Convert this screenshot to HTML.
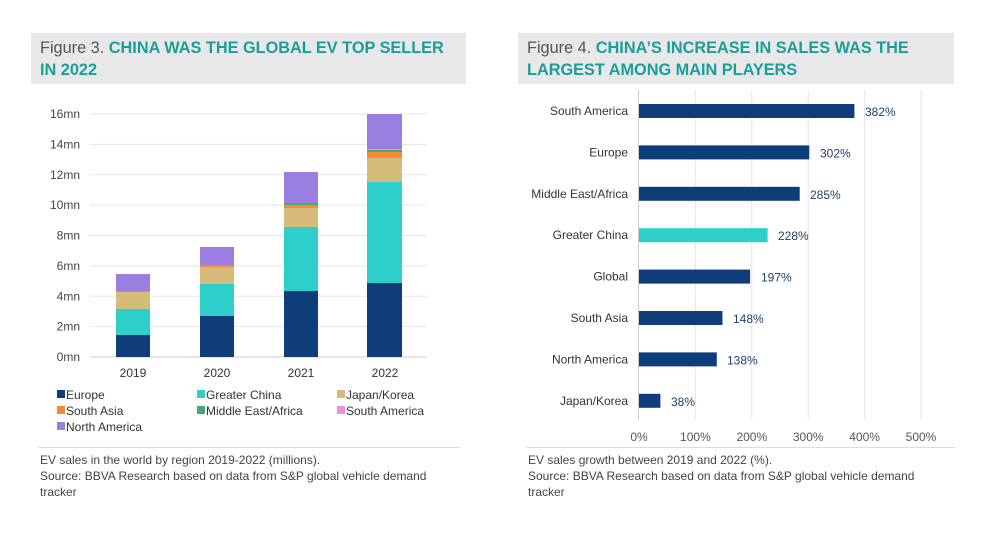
<!DOCTYPE html>
<html><head><meta charset="utf-8"><style>
body{margin:0;width:981px;height:551px;background:#fff;font-family:"Liberation Sans",sans-serif;overflow:hidden;position:relative}
.hd{position:absolute;top:33px;height:51px;background:#e8e8e8;font-size:16.3px;line-height:22px;padding:4px 0 0 9px;box-sizing:border-box;color:#1a9e9b;font-weight:bold;white-space:nowrap}
.hd span{color:#555;font-weight:normal}
.cap{position:absolute;top:452px;font-size:12px;line-height:16px;color:#444}
.sep{position:absolute;top:447px;height:1px;background:#ddd}
svg{position:absolute;left:0;top:0}
</style></head><body>
<div class="hd" style="left:31px;width:435px"><span>Figure 3.</span> CHINA WAS THE GLOBAL EV TOP SELLER<br>IN 2022</div>
<div class="hd" style="left:518px;width:436px"><span>Figure 4.</span> CHINA’S INCREASE IN SALES WAS THE<br>LARGEST AMONG MAIN PLAYERS</div>
<div class="sep" style="left:38px;width:422px"></div>
<div class="sep" style="left:526px;width:429px"></div>
<div class="cap" style="left:40px">EV sales in the world by region 2019-2022 (millions).<br>Source: BBVA Research based on data from S&amp;P global vehicle demand<br>tracker</div>
<div class="cap" style="left:528px">EV sales growth between 2019 and 2022 (%).<br>Source: BBVA Research based on data from S&amp;P global vehicle demand<br>tracker</div>
<svg width="981" height="551" font-family="Liberation Sans, sans-serif">
<g stroke="#e6e6e6" stroke-width="1">
<line x1="90" x2="427" y1="114" y2="114"/><line x1="90" x2="427" y1="144.4" y2="144.4"/><line x1="90" x2="427" y1="174.8" y2="174.8"/><line x1="90" x2="427" y1="205.1" y2="205.1"/><line x1="90" x2="427" y1="235.5" y2="235.5"/><line x1="90" x2="427" y1="265.9" y2="265.9"/><line x1="90" x2="427" y1="296.3" y2="296.3"/><line x1="90" x2="427" y1="326.6" y2="326.6"/><line x1="90" x2="427" y1="357" y2="357" stroke="#ccc"/>
</g>
<g font-size="12" fill="#444" text-anchor="end">
<text x="80" y="118">16mn</text><text x="80" y="148.4">14mn</text><text x="80" y="178.8">12mn</text><text x="80" y="209.1">10mn</text><text x="80" y="239.5">8mn</text><text x="80" y="269.9">6mn</text><text x="80" y="300.3">4mn</text><text x="80" y="330.6">2mn</text><text x="80" y="361">0mn</text>
</g>
<g font-size="12" fill="#333" text-anchor="middle"><text x="133" y="377">2019</text><text x="217" y="377">2020</text><text x="301" y="377">2021</text><text x="385" y="377">2022</text></g>
<rect x="116" y="335" width="34" height="22" fill="#0f3d7a"/><rect x="116" y="309" width="34" height="26" fill="#2ecfcb"/><rect x="116" y="292" width="34" height="17" fill="#d6bc7a"/><rect x="116" y="291" width="34" height="1" fill="#f58a35"/><rect x="116" y="274" width="34" height="17" fill="#9a7ee0"/>
<rect x="200" y="316" width="34" height="41" fill="#0f3d7a"/><rect x="200" y="284" width="34" height="32" fill="#2ecfcb"/><rect x="200" y="267" width="34" height="17" fill="#d6bc7a"/><rect x="200" y="265" width="34" height="2" fill="#f58a35"/><rect x="200" y="247" width="34" height="18" fill="#9a7ee0"/>
<rect x="284" y="291" width="34" height="66" fill="#0f3d7a"/><rect x="284" y="227" width="34" height="64" fill="#2ecfcb"/><rect x="284" y="208" width="34" height="19" fill="#d6bc7a"/><rect x="284" y="205" width="34" height="3" fill="#f58a35"/><rect x="284" y="203" width="34" height="2" fill="#4aa86a"/><rect x="284" y="172" width="34" height="31" fill="#9a7ee0"/>
<rect x="367" y="283" width="35" height="74" fill="#0f3d7a"/><rect x="367" y="182" width="35" height="101" fill="#2ecfcb"/><rect x="367" y="158" width="35" height="24" fill="#d6bc7a"/><rect x="367" y="152" width="35" height="6" fill="#f58a35"/><rect x="367" y="150" width="35" height="2" fill="#4aa86a"/><rect x="367" y="149" width="35" height="1" fill="#f08ee0"/><rect x="367" y="114" width="35" height="35" fill="#9a7ee0"/>
<g font-size="12" fill="#333">
<rect x="57" y="390" width="8" height="8" fill="#0f3d7a"/><text x="66" y="399">Europe</text>
<rect x="197" y="390" width="8" height="8" fill="#2ecfcb"/><text x="206" y="399">Greater China</text>
<rect x="337" y="390" width="8" height="8" fill="#d6bc7a"/><text x="346" y="399">Japan/Korea</text>
<rect x="57" y="406" width="8" height="8" fill="#f58a35"/><text x="66" y="415">South Asia</text>
<rect x="197" y="406" width="8" height="8" fill="#4aa86a"/><text x="206" y="415">Middle East/Africa</text>
<rect x="337" y="406" width="8" height="8" fill="#f08ee0"/><text x="346" y="415">South America</text>
<rect x="57" y="422" width="8" height="8" fill="#9a7ee0"/><text x="66" y="431">North America</text>
</g>
<g stroke="#e6e6e6"><line x1="695.4" x2="695.4" y1="90" y2="420"/><line x1="751.8" x2="751.8" y1="90" y2="420"/><line x1="808.2" x2="808.2" y1="90" y2="420"/><line x1="864.6" x2="864.6" y1="90" y2="420"/><line x1="921" x2="921" y1="90" y2="420"/></g>
<line x1="638.5" x2="638.5" y1="90" y2="420" stroke="#ccc"/>
<g font-size="12" fill="#555" text-anchor="middle"><text x="639" y="441">0%</text><text x="695.4" y="441">100%</text><text x="751.8" y="441">200%</text><text x="808.2" y="441">300%</text><text x="864.6" y="441">400%</text><text x="921" y="441">500%</text></g>
<g font-size="12" fill="#333" text-anchor="end">
<text x="628" y="115">South America</text><text x="628" y="156.4">Europe</text><text x="628" y="197.8">Middle East/Africa</text><text x="628" y="239.2">Greater China</text><text x="628" y="280.6">Global</text><text x="628" y="322">South Asia</text><text x="628" y="363.4">North America</text><text x="628" y="404.8">Japan/Korea</text>
</g>
<g fill="#0f3d7a">
<rect x="639" y="104" width="215.4" height="14"/><rect x="639" y="145.4" width="170.3" height="14"/><rect x="639" y="186.8" width="160.7" height="14"/><rect x="639" y="228.2" width="128.6" height="14" fill="#2ecfcb"/><rect x="639" y="269.6" width="111.1" height="14"/><rect x="639" y="311" width="83.5" height="14"/><rect x="639" y="352.4" width="77.8" height="14"/><rect x="639" y="393.8" width="21.4" height="14"/>
</g>
<g font-size="12" fill="#1f3f6e">
<text x="865" y="116">382%</text><text x="820" y="157.4">302%</text><text x="810" y="198.8">285%</text><text x="778" y="240.2">228%</text><text x="761" y="281.6">197%</text><text x="733" y="323">148%</text><text x="727" y="364.4">138%</text><text x="671" y="405.8">38%</text>
</g>
</svg>
</body></html>
